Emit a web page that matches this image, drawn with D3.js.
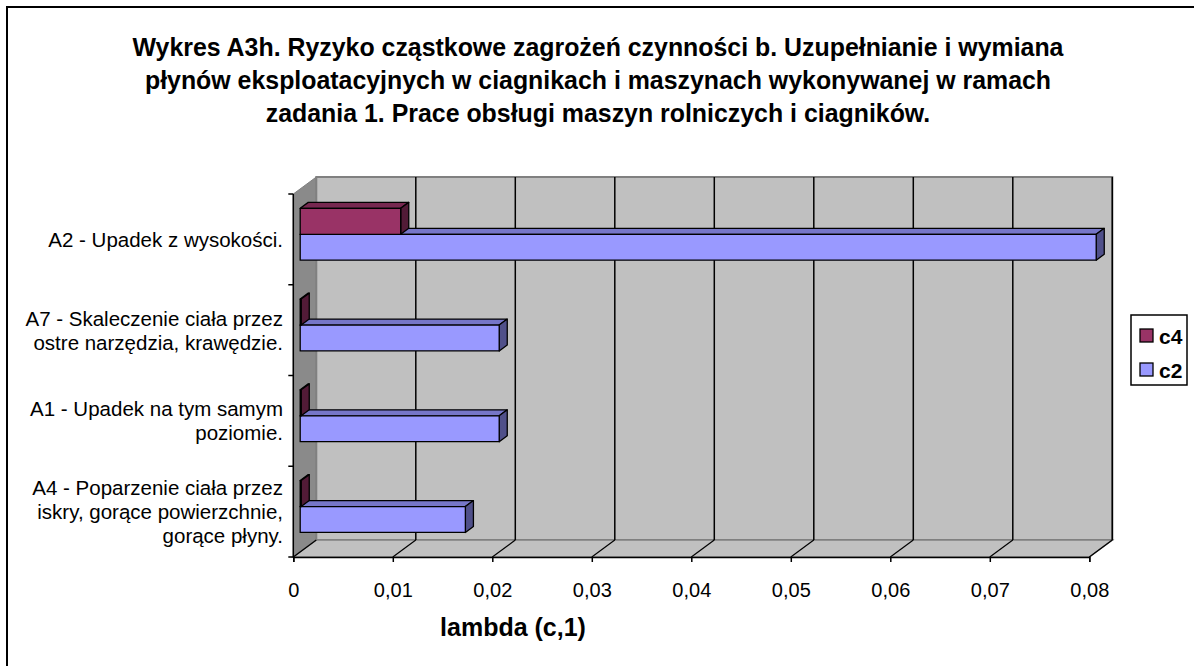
<!DOCTYPE html>
<html><head><meta charset="utf-8">
<script src="https://cdn.jsdelivr.net/npm/d3@7"></script>
<style>body{margin:0;background:#fff}svg{display:block;font-family:"Liberation Sans",Arial,sans-serif}</style>
</head><body><svg id="c" width="1194" height="666"></svg>
<script>
const titleLines = ["Wykres A3h. Ryzyko cząstkowe zagrożeń czynności b. Uzupełnianie i wymiana",
  "płynów eksploatacyjnych w ciagnikach i maszynach wykonywanej w ramach",
  "zadania 1. Prace obsługi maszyn rolniczych i ciagników."];
const categories = ["A2", "A7", "A1", "A4"];
const categoryLabels = [
  ["A2 - Upadek z wysokości."],
  ["A7 - Skaleczenie ciała przez", "ostre narzędzia, krawędzie."],
  ["A1 - Upadek na tym samym", "poziomie."],
  ["A4 - Poparzenie ciała przez", "iskry, gorące powierzchnie,", "gorące płyny."]
];
const seriesNames = ["c4", "c2"];
const c4Values = [0.0101, 0.0001, 0.0001, 0.0001];
const c2Values = [0.0800, 0.0200, 0.0200, 0.0166];
const xTicks = [0, 0.01, 0.02, 0.03, 0.04, 0.05, 0.06, 0.07, 0.08];
const xTickLabels = ["0", "0,01", "0,02", "0,03", "0,04", "0,05", "0,06", "0,07", "0,08"];
const axisTitle = "lambda (c,1)";

const colors = {
  c4: {front: "#993366", top: "#772850", side: "#521b37"},
  c2: {front: "#9999ff", top: "#7676c8", side: "#50508a"}
};
const seriesValues = {c4: c4Values, c2: c2Values};

const svg = d3.select("#c");
// outer frame
svg.append("rect").attr("x", 7).attr("y", 7).attr("width", 1400).attr("height", 1000)
  .attr("fill", "none").attr("stroke", "#000").attr("stroke-width", 2);

// title
svg.append("text").attr("x", 598).attr("y", 56).attr("text-anchor", "middle")
  .attr("font-weight", "bold").attr("font-size", 24.9)
  .selectAll("tspan").data(titleLines).join("tspan")
  .attr("x", 598).attr("dy", (d, i) => i ? 33 : 0).text(d => d);

const DX = 23, DY = -17;
const x = d3.scaleLinear().domain([0, 0.08]).range([293.3, 1089.3]);
const yTop = 194, yBot = 557;
const y = d3.scaleBand().domain(categories).range([yTop, yBot])
  .paddingInner(1.5 / 3.5).paddingOuter(0.75 / 3.5);
const ySub = d3.scaleBand().domain(seriesNames).range([0, y.bandwidth()]);
const P = (xv, yf, d) => [x(xv) + d * DX, yf + d * DY];
const pts = a => a.map(p => p.join(",")).join(" ");

const x0 = x(0), x1 = x(0.08);
// left wall
svg.append("polygon").attr("points", pts([[x0, yTop], [x0 + DX, yTop + DY], [x0 + DX, yBot + DY], [x0, yBot]]))
  .attr("fill", "#8a8a8a").attr("stroke", "#808080");
// back wall
svg.append("polygon").attr("points", pts([[x0 + DX, yTop + DY], [x1 + DX, yTop + DY], [x1 + DX, yBot + DY], [x0 + DX, yBot + DY]]))
  .attr("fill", "#c0c0c0").attr("stroke", "#808080").attr("stroke-width", 2);
// floor
svg.append("polygon").attr("points", pts([[x0, yBot], [x0 + DX, yBot + DY], [x1 + DX, yBot + DY], [x1, yBot]]))
  .attr("fill", "#c0c0c0").attr("stroke", "#808080").attr("stroke-width", 1.5);

// gridlines
const g = svg.append("g");
xTicks.forEach(t => {
  if (t > 0) {
    g.append("line").attr("x1", x(t) + DX).attr("x2", x(t) + DX).attr("y1", yTop + DY).attr("y2", yBot + DY)
      .attr("stroke", "#000").attr("stroke-width", 1.5);
  }
  g.append("line").attr("x1", x(t)).attr("y1", yBot).attr("x2", x(t) + DX).attr("y2", yBot + DY)
    .attr("stroke", "#000").attr("stroke-width", 1.2);
});

// axes
const xAxis = d3.axisBottom(x).tickValues(xTicks).tickSize(5).tickFormat((d, i) => xTickLabels[i]);
const gx = svg.append("g").attr("transform", `translate(0,${yBot})`).call(xAxis);
gx.select(".domain").attr("stroke", "#000").attr("stroke-width", 1.5);
gx.selectAll(".tick line").attr("stroke", "#000").attr("stroke-width", 1.5);
gx.selectAll(".tick text").attr("font-size", 20).attr("font-family", "Liberation Sans, Arial, sans-serif")
  .attr("fill", "#000").attr("y", 33).attr("dy", null).attr("dominant-baseline", "central");

svg.append("line").attr("x1", x0).attr("x2", x0).attr("y1", yTop).attr("y2", yBot)
  .attr("stroke", "#000").attr("stroke-width", 1.5);
const step = y.step();
d3.range(categories.length + 1).forEach(k => {
  svg.append("line").attr("x1", x0 - 5).attr("x2", x0).attr("y1", yTop + k * step).attr("y2", yTop + k * step)
    .attr("stroke", "#000").attr("stroke-width", 1.5);
});

// category labels
categories.forEach((c, i) => {
  const cy = yTop + (i + 0.5) * step;
  const lines = categoryLabels[i];
  const lh = 24;
  svg.append("text").attr("text-anchor", "end").attr("font-size", 20.5).attr("fill", "#000")
    .selectAll("tspan").data(lines).join("tspan")
    .attr("x", 283).attr("y", (d, j) => cy + (j - (lines.length - 1) / 2) * lh)
    .attr("dominant-baseline", "central").text(d => d);
});

// bars (bottom to top so upper bars occlude lower bars' top faces)
const d1 = 0.3, d2 = 0.65;
const bars = svg.append("g");
const order = [];
categories.forEach((c, i) => seriesNames.forEach(s => order.push({c, i, s, v: seriesValues[s][i]})));
order.sort((a, b) => (y(b.c) + ySub(b.s)) - (y(a.c) + ySub(a.s)));
order.forEach(b => {
  const yt = y(b.c) + ySub(b.s), yb = yt + ySub.bandwidth();
  const col = colors[b.s];
  const poly = (points, fill) => bars.append("polygon").attr("points", pts(points)).attr("fill", fill)
    .attr("stroke", "#000").attr("stroke-width", 1.3).attr("stroke-linejoin", "round");
  poly([P(0, yt, d1), P(b.v, yt, d1), P(b.v, yt, d2), P(0, yt, d2)], col.top);
  poly([P(b.v, yt, d1), P(b.v, yt, d2), P(b.v, yb, d2), P(b.v, yb, d1)], col.side);
  poly([P(0, yt, d1), P(b.v, yt, d1), P(b.v, yb, d1), P(0, yb, d1)], col.front);
});

// axis title
svg.append("text").attr("x", 513).attr("y", 627).attr("text-anchor", "middle").attr("dominant-baseline", "central")
  .attr("font-weight", "bold").attr("font-size", 25).text(axisTitle);

// legend
const lg = svg.append("g");
lg.append("rect").attr("x", 1131).attr("y", 315).attr("width", 56).attr("height", 70)
  .attr("fill", "#fff").attr("stroke", "#000").attr("stroke-width", 1.5);
seriesNames.forEach((s, i) => {
  const yy = 329 + i * 34;
  lg.append("rect").attr("x", 1140).attr("y", yy).attr("width", 13).attr("height", 13)
    .attr("fill", colors[s].front).attr("stroke", "#000").attr("stroke-width", 1.3);
  lg.append("text").attr("x", 1159).attr("y", yy + 7).attr("dominant-baseline", "central")
    .attr("font-weight", "bold").attr("font-size", 21).text(s);
});
</script></body></html>
